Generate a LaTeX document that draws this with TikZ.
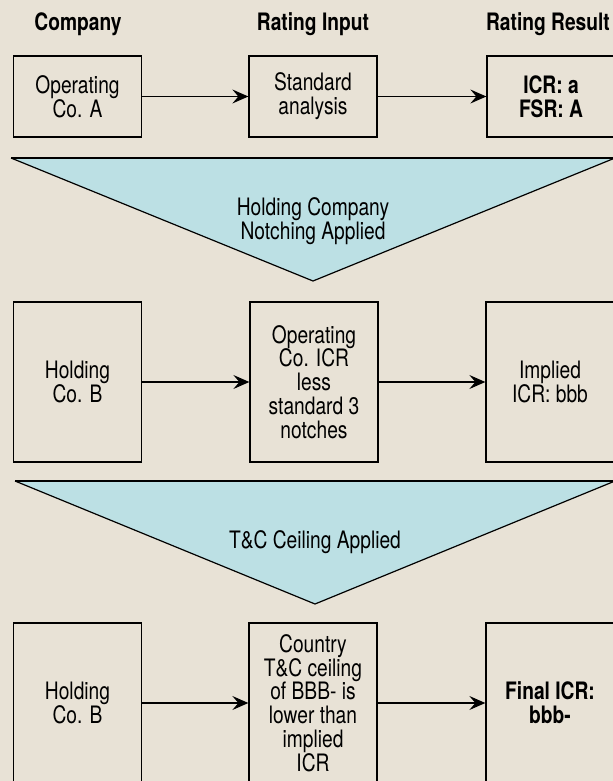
\documentclass[tikz,border=0pt]{standalone}
\usepackage{fontspec}
\setmainfont{TeX Gyre Heros}[FakeStretch=0.8]
\usetikzlibrary{arrows.meta}
\definecolor{paper}{RGB}{232,226,214}
\definecolor{wedge}{RGB}{188,224,228}
\tikzset{
  box/.style={draw, line width=0.65pt, minimum width=64pt, align=center, inner sep=2pt,
    font=\fontsize{12}{11.9}\selectfont},
  head/.style={font=\fontsize{12}{12}\selectfont\bfseries},
  link/.style={-{Stealth[length=8pt, width=7pt, inset=3pt]}, line width=0.65pt},
  funtext/.style={align=center, font=\fontsize{12}{11.9}\selectfont},
}
\begin{document}
\begin{tikzpicture}[x=0.5pt, y=-0.5pt]
  \fill[paper] (0,0) rectangle (613,781);
  \useasboundingbox (0,0) rectangle (613,781);
  \clip (0,0) rectangle (613,781);

  % === column headings ===
  \node[head] (hcomp) at (78,24) {Company};
  \node[head] (hinput) at (313,24) {Rating Input};
  \node[head] (hresult) at (548,24) {Rating Result};

  % === operating company ===
  \node[box, minimum height=40.5pt] (opA) at (77.5,96.5) {Operating\\Co. A};
  \node[box, minimum height=40.5pt] (stdA) at (313,96.5) {Standard\\analysis};
  \node[box, minimum height=40.5pt, font=\fontsize{12}{11.9}\selectfont\bfseries] (resA) at (551,96.5) {ICR: a\\FSR: A};
  \draw[link] (opA.east) -- (stdA.west);
  \draw[link] (stdA.east) -- (resA.west);

  % holding company notching
  \fill[wedge] (11,158) -- (615,158) -- (313,281) -- cycle;
  \draw[line width=0.6pt] (11,158) -- (313,281) -- (615,158);
  \draw[line width=1.1pt] (11,158) -- (615,158);
  \node[funtext] (notch) at (313,221) {Holding Company\\Notching Applied};

  % === holding company ===
  \node[box, minimum height=80pt] (holdB) at (77.5,382) {Holding\\Co. B};
  \node[box, minimum height=80pt] (lessB) at (314,382) {Operating\\Co. ICR\\less\\standard 3\\notches};
  \node[box, minimum height=80pt] (resB) at (550,382) {Implied\\ICR: bbb};
  \draw[link] (holdB.east) -- (lessB.west);
  \draw[link] (lessB.east) -- (resB.west);

  % T&C ceiling
  \fill[wedge] (15,481) -- (615,481) -- (315,604) -- cycle;
  \draw[line width=0.6pt] (15,481) -- (315,604) -- (615,481);
  \draw[line width=1.1pt] (15,481) -- (615,481);
  \node[funtext] (ceil) at (315,542) {T\&C Ceiling Applied};

  % === country ceiling ===
  \node[box, minimum height=80pt] (holdC) at (77.5,703) {Holding\\Co. B};
  \node[box, minimum height=80pt] (ctryC) at (313,703) {Country\\T\&C ceiling\\of BBB- is\\lower than\\implied\\ICR};
  \node[box, minimum height=80pt, font=\fontsize{12}{11.9}\selectfont\bfseries] (resC) at (550,703) {Final ICR:\\bbb-};
  \draw[link] (holdC.east) -- (ctryC.west);
  \draw[link] (ctryC.east) -- (resC.west);
\end{tikzpicture}
\end{document}
